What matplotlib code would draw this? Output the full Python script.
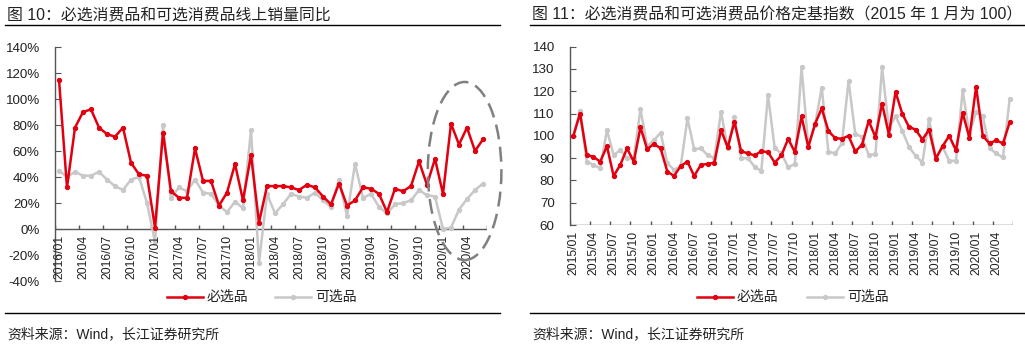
import matplotlib
matplotlib.use("Agg")
import matplotlib.pyplot as plt
from matplotlib.patches import Ellipse
from matplotlib.lines import Line2D
from matplotlib.transforms import offset_copy

plt.rcParams['font.family'] = ['Liberation Sans', 'Noto Sans CJK SC', 'DejaVu Sans']

# ---------------- Data ----------------
# Left chart: online sales YoY (%), 2016/01 - 2020/06
months_left = [f"{y}/{m:02d}" for y in range(2016, 2021) for m in range(1, 13)][:54]
necessity_yoy = [115, 32, 78, 90, 92, 78, 73, 71, 78, 51, 42, 41,
                 1, 74, 29, 24, 24, 62, 37, 37, 18, 28, 50, 22,
                 57, 5, 33, 33, 33, 32, 30, 34, 32, 25, 19, 35,
                 18, 22, 32, 31, 27, 13, 31, 29, 33, 52, 34, 54,
                 27, 81, 65, 78, 60, 69]
optional_yoy = [45, 40, 44, 41, 41, 44, 38, 33, 30, 38, 40, 20,
                -10, 80, 24, 32, 29, 38, 28, 27, 18, 13, 21, 16,
                76, -26, 27, 12, 19, 27, 25, 24, 28, 22, 17, 38,
                10, 50, 24, 27, 17, 12, 19, 20, 22, 30, 26, 25,
                0, 1, 15, 23, 30, 35]
left_ticklabels = ["2016/01", "2016/04", "2016/07", "2016/10", "2017/01", "2017/04",
                   "2017/07", "2017/10", "2018/01", "2018/04", "2018/07", "2018/10",
                   "2019/01", "2019/04", "2019/07", "2019/10", "2020/01", "2020/04"]

# Right chart: price fixed-base index (2015/01 = 100), 2015/01 - 2020/06
months_right = [f"{y}/{m:02d}" for y in range(2015, 2021) for m in range(1, 13)][:66]
necessity_idx = [100, 110, 91.4, 90.6, 88.4, 95.4, 82, 87, 94.4, 88.4, 103.8, 94,
                 96.4, 94.4, 84, 82, 86.5, 88.4, 82, 87, 87.4, 88, 102.6, 94.8,
                 106.3, 93, 92.2, 91.2, 93.1, 92.7, 88, 91.2, 98.7, 92.7, 108.7, 95,
                 105.3, 112.3, 102.2, 99, 98.7, 100, 93, 96, 106.7, 99.5, 114.5, 100.6,
                 119.7, 110, 104, 102.8, 98.3, 102.8, 89.8, 95.3, 100, 93.5, 110.3, 99.2,
                 122, 100, 96.6, 98, 96.6, 106]
optional_idx = [100, 111.3, 88.4, 87, 85.4, 102.6, 91.4, 93.6, 90, 90, 112, 95.4,
                98, 101.4, 87.7, 84.7, 86.5, 107.8, 94, 94.4, 91.4, 90, 110.8, 94.4,
                108.3, 90, 90, 86.2, 84.2, 118.3, 94.4, 92.1, 85.9, 87.4, 130.7, 95.4,
                104.8, 121.6, 92.9, 92.1, 96.6, 124.6, 100.8, 99.6, 91.4, 91.7, 130.7, 103.3,
                108.9, 102.3, 95.1, 91, 88, 107.5, 89.9, 95.1, 88.8, 88.8, 120.5, 100.8,
                110.8, 108.9, 94.4, 92.1, 90.3, 116.4]
right_ticklabels = ["2015/01", "2015/04", "2015/07", "2015/10", "2016/01", "2016/04",
                    "2016/07", "2016/10", "2017/01", "2017/04", "2017/07", "2017/10",
                    "2018/01", "2018/04", "2018/07", "2018/10", "2019/01", "2019/04",
                    "2019/07", "2019/10", "2020/01", "2020/04"]

series_names = ["必选品", "可选品"]
left_title = "图 10：必选消费品和可选消费品线上销量同比"
right_title = "图 11：必选消费品和可选消费品价格定基指数（2015 年 1 月为 100）"
source_text = "资料来源：Wind，长江证券研究所"

RED = "#e20010"
GRAY = "#c8c8c8"
AXC = "#555555"
TXT = "#222222"

W, H = 1025, 348
fig = plt.figure(figsize=(W / 100, H / 100), dpi=100)


def fx(px):
    return px / W


def fy(py):
    return 1 - py / H


def style_axes(ax, n, labels, label_idx, y0, tick_len):
    """Category axis drawn at y = y0, ticks between categories (Excel style)."""
    for s in ["top", "right", "bottom"]:
        ax.spines[s].set_visible(False)
    ax.spines["left"].set_color(AXC)
    ax.spines["left"].set_linewidth(1.0)
    ax.set_xlim(-0.5, n - 0.5)
    ax.tick_params(axis="x", which="both", bottom=False, labelbottom=False)
    ax.tick_params(axis="y", direction="in", length=4, color=AXC,
                   labelsize=9.6, labelcolor=TXT, pad=11)
    ax.axhline(y0, color=AXC, lw=1.0, zorder=1.5)
    ticks = [i - 0.5 for i in label_idx] + [n - 0.5]
    ax.vlines(ticks, y0, y0 + tick_len, color=AXC, lw=1.0, zorder=1.5)
    tr = offset_copy(ax.transData, fig=fig, y=-4, units="points")
    for i, lab in zip(label_idx, labels):
        ax.text(i, y0, lab, rotation=90, ha="center", va="top", fontsize=8.8,
                color=TXT, transform=tr, clip_on=False)


# ---------------- Left chart ----------------
axL = fig.add_axes([fx(55), fy(281), fx(487) - fx(55), fy(47) - fy(281)])
xL = list(range(len(months_left)))
axL.plot(xL, optional_yoy, color=GRAY, lw=1.8, marker="o", ms=2.8, zorder=2)
axL.plot(xL, necessity_yoy, color=RED, lw=1.8, marker="o", ms=2.8, zorder=3)
axL.set_ylim(-40, 140)
axL.set_yticks(range(-40, 141, 20))
axL.set_yticklabels([f"{v}%" for v in range(-40, 141, 20)])
idxL = [months_left.index(l) for l in left_ticklabels]
style_axes(axL, len(months_left), left_ticklabels, idxL, 0, 3.0)
axL.add_patch(Ellipse((50.7, 44.6), 9.2, 137, fill=False, ls=(0, (6, 3)),
                      lw=1.8, edgecolor="#808080", clip_on=False, zorder=4))

# ---------------- Right chart ----------------
axR = fig.add_axes([fx(570), fy(225), fx(1013) - fx(570), fy(46.7) - fy(225)])
xR = list(range(len(months_right)))
axR.plot(xR, optional_idx, color=GRAY, lw=1.8, marker="o", ms=2.8, zorder=2)
axR.plot(xR, necessity_idx, color=RED, lw=1.8, marker="o", ms=2.8, zorder=3)
axR.set_ylim(60, 140)
axR.set_yticks(range(60, 141, 10))
idxR = [months_right.index(l) for l in right_ticklabels]
style_axes(axR, len(months_right), right_ticklabels, idxR, 60, 1.8)

# ---------------- Titles, rules, sources ----------------
for x0, x1, title in [(5, 500, left_title), (530, 1025, right_title)]:
    fig.text(fx(x0 + 2), fy(15), title, fontsize=11.4, color=TXT, va="center", ha="left")
    fig.add_artist(Line2D([fx(x0), fx(x1)], [fy(25), fy(25)], color="black", lw=1.0))
    fig.add_artist(Line2D([fx(x0), fx(x1)], [fy(313), fy(313)], color="black", lw=1.0))
    fig.text(fx(x0 + 2), fy(334), source_text, fontsize=10, color=TXT, va="center", ha="left")

# ---------------- Legends ----------------
def legend_at(x_red, x_gray, y):
    for xs, col, name in [(x_red, RED, series_names[0]), (x_gray, GRAY, series_names[1])]:
        fig.add_artist(Line2D([fx(xs), fx(xs + 36)], [fy(y), fy(y)], color=col, lw=1.8))
        fig.add_artist(Line2D([fx(xs + 18)], [fy(y)], color=col, marker="o", ms=2.8, lw=0))
        fig.text(fx(xs + 40), fy(y), name, fontsize=10, color=TXT, va="center", ha="left")

legend_at(167, 275, 297)
legend_at(697, 807, 297)

fig.savefig("out.png", dpi=100, facecolor="white")
